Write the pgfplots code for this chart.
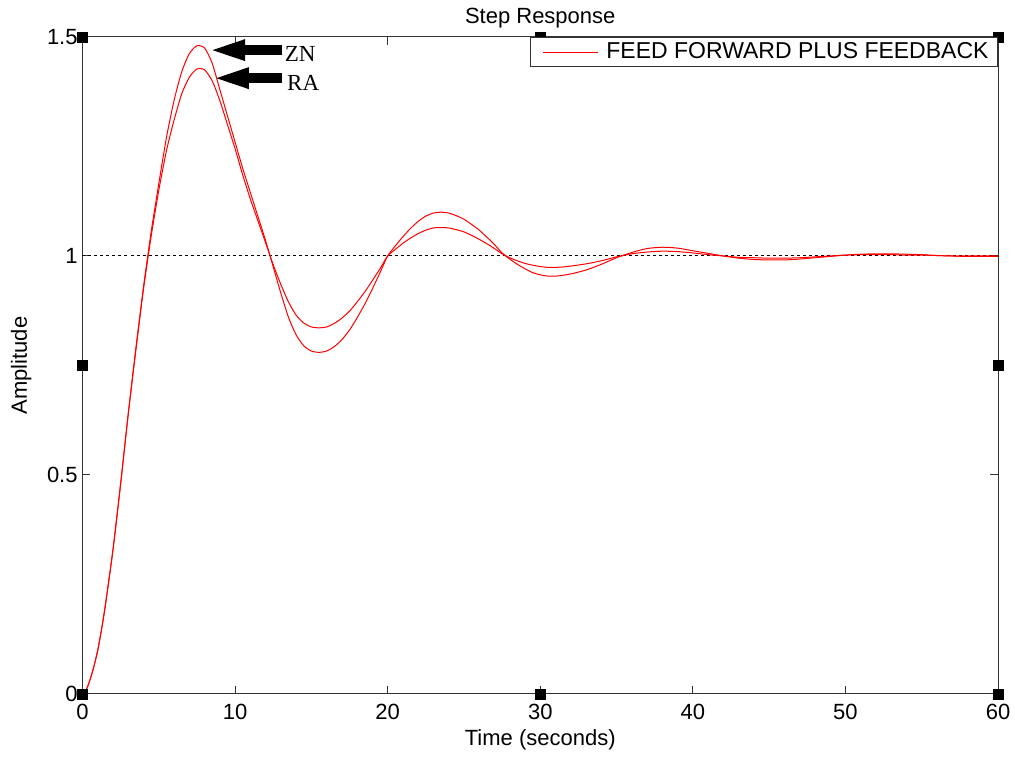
\documentclass[border=0pt]{standalone}
\usepackage{pgfplots}
\pgfplotsset{compat=1.18}
\usepackage{pgfplotstable}
\usepackage{fontspec}
\setmainfont{Liberation Sans}
\newfontfamily\timesf{Liberation Serif}
\usetikzlibrary{arrows.meta}

\pgfplotstableread{
t zn ra
0 0 0
0.25 0.01 0.01
0.5 0.033 0.033
0.75 0.063 0.063
1 0.10 0.10
1.25 0.148 0.148
1.5 0.203 0.203
2 0.33 0.33
2.5 0.48 0.48
3 0.64 0.64
3.5 0.79 0.785
4 0.93 0.925
4.5 1.055 1.045
5 1.165 1.15
5.5 1.27 1.24
6 1.355 1.31
6.5 1.42 1.37
7 1.462 1.408
7.5 1.480 1.427
8 1.475 1.425
8.5 1.44 1.40
9 1.38 1.355
9.5 1.32 1.30
10 1.26 1.245
10.5 1.20 1.185
11 1.145 1.13
11.5 1.09 1.08
12 1.035 1.03
12.5 0.975 0.98
13 0.915 0.935
13.5 0.86 0.895
14 0.82 0.865
14.5 0.795 0.847
15 0.783 0.838
15.5 0.780 0.836
16 0.783 0.838
16.5 0.793 0.846
17 0.809 0.858
17.5 0.831 0.874
18 0.859 0.895
18.5 0.89 0.918
19 0.925 0.944
19.5 0.962 0.971
20 1.0 1.0
20.5 1.023 1.015
21 1.044 1.029
21.5 1.063 1.041
22 1.079 1.051
22.5 1.091 1.059
23 1.098 1.064
23.5 1.100 1.065
24 1.098 1.064
24.5 1.092 1.060
25 1.084 1.055
25.5 1.072 1.047
26 1.059 1.038
26.5 1.043 1.028
27 1.026 1.017
27.5 1.007 1.005
28 0.993 0.996
28.5 0.981 0.989
29 0.971 0.983
29.5 0.962 0.979
30 0.957 0.976
30.5 0.954 0.974
31 0.954 0.974
31.5 0.956 0.975
32 0.959 0.977
33 0.968 0.982
34 0.981 0.989
35 0.996 0.998
36 1.008 1.005
37 1.017 1.009
38 1.020 1.011
39 1.018 1.010
40 1.012 1.007
41 1.006 1.003
42 1.0 1.0
43 0.995 0.997
44 0.992 0.996
45 0.991 0.995
46 0.991 0.995
47 0.993 0.996
48 0.996 0.998
49 0.999 1.0
50 1.002 1.002
51 1.004 1.003
52 1.005 1.003
53 1.005 1.003
54 1.004 1.002
55 1.003 1.002
56 1.001 1.001
57 1.0 1.0
58 0.999 1.0
59 0.999 1.0
60 0.999 1.0
}\resp

\begin{document}
\begin{tikzpicture}
\begin{axis}[
  scale only axis,
  width=457.75pt, height=328.5pt,
  xmin=0, xmax=60, ymin=0, ymax=1.5,
  xtick={0,10,...,60}, ytick={0,0.5,1,1.5},
  yticklabels={0,0.5,1,1.5},
  tick align=inside,
  major tick length=4pt,
  axis line style={black!80, line width=0.5pt},
  every tick/.style={black!80, line width=0.5pt},
  font=\fontsize{11}{13}\selectfont,
  /pgf/number format/assume math mode=true,
  xticklabel style={inner sep=0pt, yshift=-5pt, anchor=north},
  yticklabel style={inner sep=0pt, xshift=-2.25pt, anchor=east},
  xlabel={Time (seconds)},
  xlabel style={at={(axis description cs:0.5,-0.070)}, anchor=center, inner sep=0pt},
  ylabel={Amplitude},
  ylabel style={at={(axis description cs:-0.067,0.5)}, anchor=center, inner sep=0pt},
  clip=false,
  legend style={at={(rel axis cs:1,1)}, anchor=north east, draw=black!80, line width=0.5pt,
    inner xsep=2.5pt, inner ysep=0.5pt, font=\fontsize{11.5}{13}\selectfont,
    nodes={inner sep=2pt}},
  legend image code/.code={\path (-1pt,0pt) (32pt,0pt); \draw[red, line width=0.5pt] (2.5pt,0pt) -- (30pt,0pt);},
  legend cell align=left,
]
\addplot[line width=0.5pt, dash pattern=on 1.5pt off 1.5pt, draw=black, forget plot] coordinates {(0,1) (60,1)};
\addplot[red, line width=0.5pt, smooth, tension=0.4] table[x=t, y=zn] {\resp};
\addlegendentry{FEED FORWARD PLUS FEEDBACK}
\addplot[red, line width=0.5pt, smooth, tension=0.4, forget plot] table[x=t, y=ra] {\resp};
\addplot[only marks, mark=square*, mark size=2.5pt, black, forget plot] coordinates {(0,0) (0,0.75) (0,1.5) (30,0) (30,1.5) (60,0) (60,0.75) (60,1.5)};
\draw[black, line width=5pt, -{Triangle[length=19.5pt, width=9pt]}] (axis cs:13.1,1.470) -- (axis cs:8.1,1.470);
\draw[black, line width=5pt, -{Triangle[length=19.5pt, width=9pt]}] (axis cs:13.1,1.406) -- (axis cs:8.35,1.406);
\node[font=\timesf\fontsize{11.5}{13}\selectfont, inner sep=0pt] at (axis cs:14.26,1.461) {ZN};
\node[font=\timesf\fontsize{11.5}{13}\selectfont, inner sep=0pt] at (axis cs:14.46,1.395) {RA};
\node[font=\fontsize{11}{13}\selectfont, inner sep=0pt] at (rel axis cs:0.5,1.029) {Step Response};
\end{axis}
\pgfresetboundingbox
\path ([shift={(-41.25pt,-31.5pt)}]current axis.south west) rectangle ([shift={(8.5pt,18.5pt)}]current axis.north east);
\end{tikzpicture}
\end{document}
